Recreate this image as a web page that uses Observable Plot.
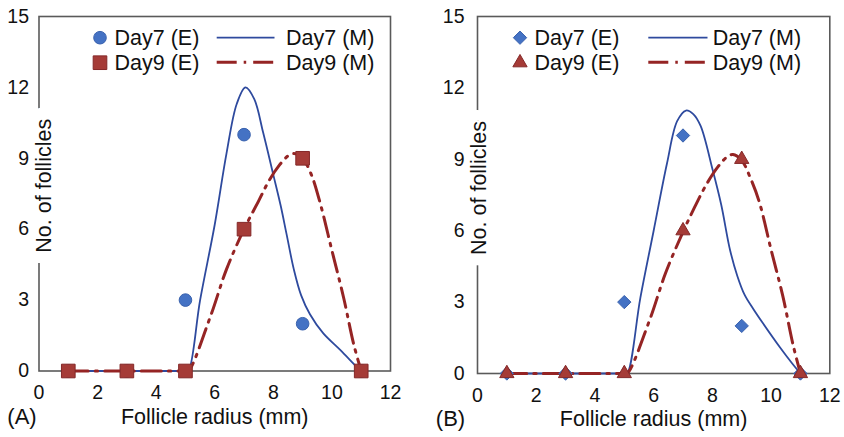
<!DOCTYPE html>
<html>
<head>
<meta charset="utf-8">
<script src="https://cdn.jsdelivr.net/npm/d3@7"></script>
<script src="https://cdn.jsdelivr.net/npm/@observablehq/plot@0.6"></script>
<style>
  html, body { margin: 0; padding: 0; background: #fff; }
  #wrap { position: relative; width: 844px; height: 437px; overflow: hidden; font-family: "Liberation Sans", Arial, sans-serif; }
  #pa, #pb, #legend { position: absolute; top: 0; }
  #pa { left: 0; }
  #pb { left: 420px; }
  #legend { left: 0; pointer-events: none; }
</style>
</head>
<body>
<div id="wrap">
  <div id="pa"></div>
  <div id="pb"></div>
  <svg id="legend" width="844" height="437"></svg>
</div>
<script>
// ---- data ----
const radius = [1, 3, 5, 7, 9, 11];
const xTicks = [0, 2, 4, 6, 8, 10, 12];
const yTicks = [0, 3, 6, 9, 12, 15];

// Panel A experiment values
const day7E_A = [0, 0, 3, 10, 2, 0];
const day9E_A = [0, 0, 0, 6, 9, 0];
// Panel B experiment values
const day7E_B = [0, 0, 3, 10, 2, 0];
const day9E_B = [0, 0, 0, 6, 9, 0];

// Model curves, panel A
const day7M_A_x = [1, 3, 5, 5.1, 5.5, 6.0, 6.4, 6.75, 7.05, 7.35, 7.65, 8.0, 8.25, 8.45, 8.7, 8.95, 9.25, 9.7, 10.3, 10.85, 11];
const day7M_A_y = [0, 0, 0, 0, 3.0, 6.2, 9.2, 11.3, 12.0, 11.5, 10.1, 8.3, 7.0, 5.8, 4.3, 3.2, 2.4, 1.6, 0.87, 0.17, 0];
const day9M_A_x = [1, 3, 5, 5.1, 5.85, 6.4, 7.0, 7.5, 7.85, 8.2, 8.5, 8.7, 9.0, 9.3, 9.6, 10.0, 10.4, 10.75, 11];
const day9M_A_y = [0, 0, 0, 0, 2.3, 4.3, 6.0, 7.2, 8.05, 8.7, 9.1, 9.2, 9.0, 8.3, 7.1, 5.1, 3.1, 1.1, 0];

// Model curves, panel B
const day7M_B_x = [1, 3, 5, 5.1, 5.55, 6.0, 6.45, 6.8, 7.1, 7.35, 7.6, 8.0, 8.3, 8.6, 8.85, 9.1, 9.4, 9.7, 10.3, 10.7, 11];
const day7M_B_y = [0, 0, 0, 0, 3.2, 6.0, 8.8, 10.6, 11.05, 10.9, 10.4, 8.6, 7.1, 5.2, 4.1, 3.3, 2.7, 2.15, 1.1, 0.45, 0];
const day9M_B_x = [1, 3, 5, 5.1, 5.85, 6.4, 7.0, 7.4, 7.8, 8.2, 8.5, 8.7, 9.0, 9.3, 9.6, 10.0, 10.4, 10.75, 11];
const day9M_B_y = [0, 0, 0, 0, 2.2, 4.2, 5.95, 7.0, 7.95, 8.7, 9.1, 9.2, 8.95, 8.2, 7.2, 5.2, 3.25, 1.2, 0];

const xLabel = "Follicle radius (mm)";
const yLabel = "No. of follicles";
const seriesNames = ["Day7 (E)", "Day9 (E)", "Day7 (M)", "Day9 (M)"];

// ---- styles ----
const FONT = "'Liberation Sans', Arial, sans-serif";
const BLUE_FILL = "#4472C4", BLUE_EDGE = "#3A62AE", BLUE_LINE = "#2E4A9E";
const RED_FILL = "#A53B37", RED_EDGE = "#842828", RED_LINE = "#952424";
const DASH = "20,7,2.5,7";
const TICK_FS = 19.5, TEXT_FS = 21.5;

const pts = (xs, ys) => xs.map((x, i) => ({x, y: ys[i]}));

function panel(o) {
  return Plot.plot({
    width: o.width, height: 437,
    marginTop: 16, marginLeft: o.ml, marginRight: o.mr, marginBottom: o.mb,
    x: {domain: [0, 12]},
    y: {domain: [0, 15]},
    style: {fontFamily: FONT, background: "white", color: "#111", overflow: "visible"},
    marks: [
      Plot.frame({stroke: "#5a5a5a", strokeWidth: 1.6}),
      Plot.text([yLabel], {text: d => d, frameAnchor: "left", textAnchor: "middle", rotate: -90, dx: o.ylDx, dy: o.ylDy,
        fontSize: TEXT_FS, fill: "#111", stroke: "white", strokeWidth: 24, paintOrder: "stroke", strokeLinejoin: "round"}),
      Plot.axisY({ticks: yTicks, tickSize: 0, tickPadding: o.yPad, fontSize: TICK_FS, label: null}),
      Plot.axisX({ticks: xTicks, tickSize: 0, tickPadding: 14.5, fontSize: TICK_FS, label: null}),
      Plot.text([xLabel], {text: d => d, frameAnchor: "bottom", dy: 52.5, fontSize: TEXT_FS, fill: "#111"}),
      Plot.text([o.tag], {text: d => d, frameAnchor: "bottom-left", textAnchor: "middle", dx: o.tagDx, dy: 52.5, fontSize: 22, fill: "#111"}),
      Plot.line(o.m7, {x: "x", y: "y", stroke: BLUE_LINE, strokeWidth: 1.8, curve: "catmull-rom"}),
      Plot.line(o.m9, {x: "x", y: "y", stroke: RED_LINE, strokeWidth: 3, strokeDasharray: DASH, curve: "catmull-rom"}),
      Plot.dot(o.e7, {x: "x", y: "y", symbol: o.s7, r: o.r7, fill: BLUE_FILL, stroke: BLUE_EDGE, strokeWidth: 1}),
      Plot.dot(o.e9, {x: "x", y: "y", symbol: o.s9, r: o.r9, fill: RED_FILL, stroke: RED_EDGE, strokeWidth: 1})
    ]
  });
}

document.getElementById("pa").append(panel({
  width: 422, ml: 38.5, mr: 32, mb: 66.5, yPad: 10, ylDx: 4.8, ylDy: -8, tag: "(A)", tagDx: -17,
  e7: pts(radius, day7E_A), e9: pts(radius, day9E_A),
  m7: pts(day7M_A_x, day7M_A_y), m9: pts(day9M_A_x, day9M_A_y),
  s7: "circle", r7: 6.3, s9: "square", r9: 7.7
}));

document.getElementById("pb").append(panel({
  width: 424, ml: 57, mr: 14.7, mb: 64, yPad: 13, ylDx: 1.3, ylDy: -7, tag: "(B)", tagDx: -27,
  e7: pts(radius, day7E_B), e9: pts(radius, day9E_B),
  m7: pts(day7M_B_x, day7M_B_y), m9: pts(day9M_B_x, day9M_B_y),
  s7: "diamond2", r7: 6.0, s9: "triangle", r9: 5.3
}));

// ---- legends (overlay) ----
const lg = d3.select("#legend").style("font-family", FONT);
function legend(ox, symE7, rE7, symE9, rE9, lineX0, lineX1, textM) {
  const rows = [37.7, 62.7];
  const sym = (s, r) => d3.symbol(s, r * r * Math.PI)();
  lg.append("path").attr("d", sym(symE7, rE7)).attr("transform", `translate(${ox},${rows[0]})`)
    .attr("fill", BLUE_FILL).attr("stroke", BLUE_EDGE);
  lg.append("path").attr("d", sym(symE9, rE9)).attr("transform", `translate(${ox},${rows[1]})`)
    .attr("fill", RED_FILL).attr("stroke", RED_EDGE);
  lg.append("text").attr("x", ox + 14.5).attr("y", rows[0] + 7.3).attr("font-size", TEXT_FS).attr("fill", "#111").text(seriesNames[0]);
  lg.append("text").attr("x", ox + 14.5).attr("y", rows[1] + 7.3).attr("font-size", TEXT_FS).attr("fill", "#111").text(seriesNames[1]);
  lg.append("line").attr("x1", lineX0).attr("x2", lineX1).attr("y1", rows[0]).attr("y2", rows[0])
    .attr("stroke", BLUE_LINE).attr("stroke-width", 1.8);
  lg.append("line").attr("x1", lineX0).attr("x2", lineX1).attr("y1", rows[1] - 0.5).attr("y2", rows[1] - 0.5)
    .attr("stroke", RED_LINE).attr("stroke-width", 3).attr("stroke-dasharray", DASH);
  lg.append("text").attr("x", textM).attr("y", rows[0] + 7.3).attr("font-size", TEXT_FS).attr("fill", "#111").text(seriesNames[2]);
  lg.append("text").attr("x", textM).attr("y", rows[1] + 7.3).attr("font-size", TEXT_FS).attr("fill", "#111").text(seriesNames[3]);
}
legend(100, d3.symbolCircle, 6.3, d3.symbolSquare, 7.7, 216.7, 274.5, 286);
legend(520, d3.symbolDiamond2, 6.0, d3.symbolTriangle, 5.3, 648.3, 707.5, 712.7);
</script>
</body>
</html>
